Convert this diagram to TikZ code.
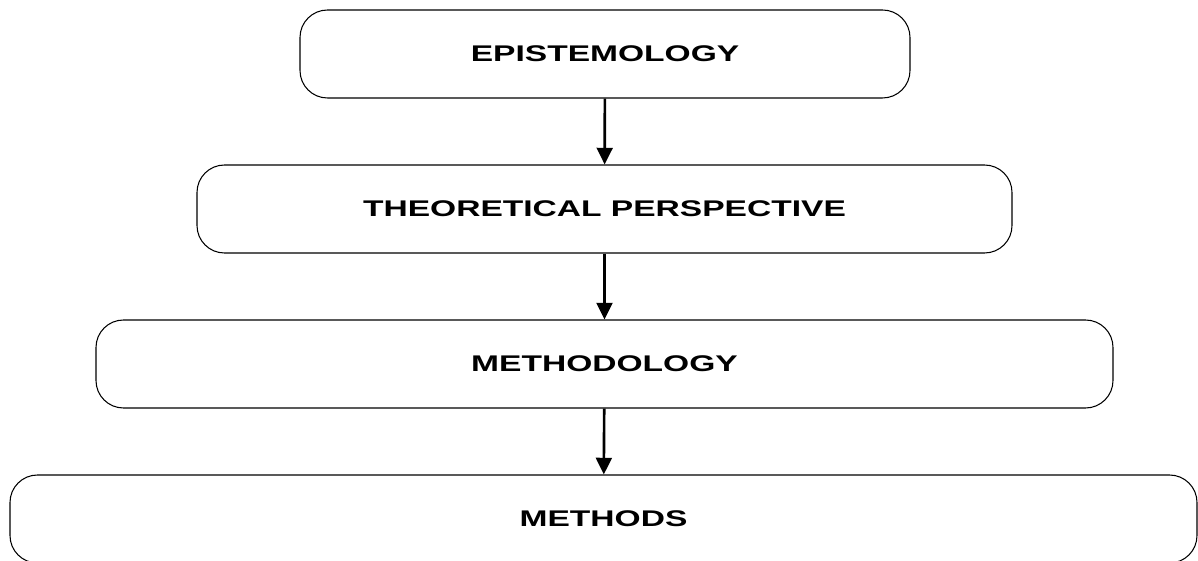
\documentclass[tikz,border=0pt]{standalone}
\usepackage{fontspec}
\setmainfont{Liberation Sans}
\usepackage{tikz}
\usetikzlibrary{arrows.meta,shapes,positioning}

\newcommand{\widetext}[1]{\scalebox{1.48}[1]{#1}}

\begin{document}
\begin{tikzpicture}[>={Triangle[width=9pt,length=9.5pt]},
    stage/.style={draw, line width=0.6pt, rounded corners=0.55cm, minimum height=1.76cm,
      font=\bfseries\fontsize{12.9}{15}\selectfont},
    link/.style={->, line width=1.5pt}]
    \clip (0,0) rectangle (23.96,11.2);
    \node[stage, minimum width=12.2cm] (epi) at (12.1,10.12) {\widetext{EPISTEMOLOGY}};
    \node[stage, minimum width=16.3cm] (theory) at (12.09,7.02) {\widetext{THEORETICAL PERSPECTIVE}};
    \node[stage, minimum width=20.34cm] (method) at (12.09,3.92) {\widetext{METHODOLOGY}};
    \node[stage, minimum width=23.74cm] (methods) at (12.07,0.82) {\widetext{METHODS}};

    \draw[link] (epi) -- (theory);
    \draw[link] (theory) -- (method);
    \draw[link] (method) -- (methods);
  \end{tikzpicture}
\end{document}
